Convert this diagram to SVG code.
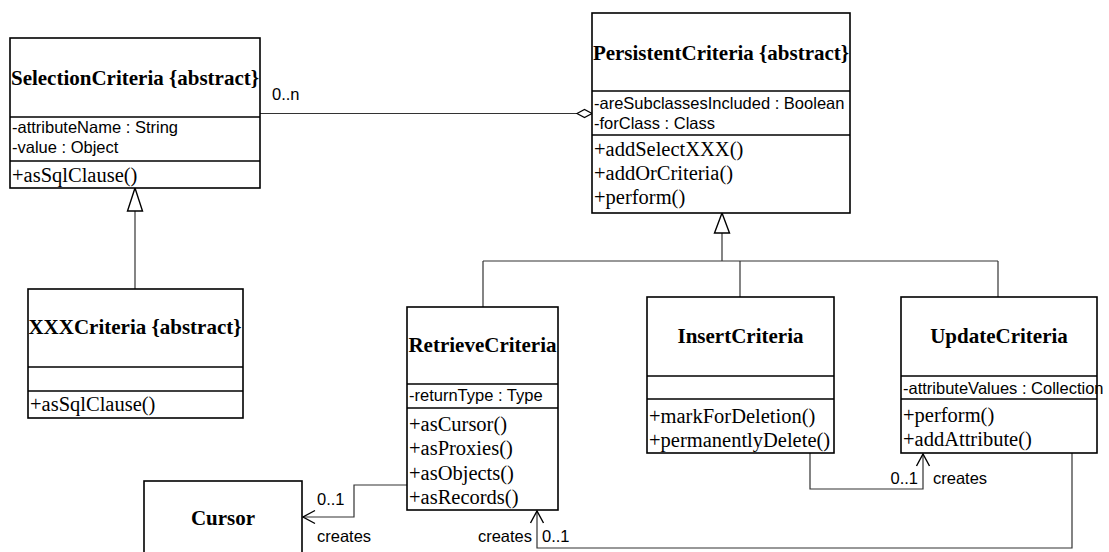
<svg xmlns="http://www.w3.org/2000/svg" width="1109" height="552" viewBox="0 0 1109 552">
  <style>
    .box { fill: #fff; stroke: #000; stroke-width: 1.6; }
    .div { stroke: #000; stroke-width: 1.6; }
    .title { font-family: "Liberation Serif", "Times New Roman", serif; font-weight: bold; font-size: 21px; fill: #000; text-anchor: middle; }
    .op { font-family: "Liberation Serif", "Times New Roman", serif; font-size: 20.5px; fill: #000; }
    .attr { font-family: "Liberation Sans", Arial, sans-serif; font-size: 16.5px; fill: #000; }
    .lbl { font-family: "Liberation Sans", Arial, sans-serif; font-size: 16.5px; fill: #000; }
    .conn { fill: none; stroke: #333; stroke-width: 1.2; }
    .tri { fill: #fff; stroke: #000; stroke-width: 1.4; }
    .arrow { fill: none; stroke: #000; stroke-width: 1.4; }
  </style>

  <!-- connectors -->
  <g id="connectors">
    <!-- aggregation: SelectionCriteria 0..n to PersistentCriteria -->
    <line class="conn" x1="260" y1="113.5" x2="577" y2="113.5"/>
    <polygon points="577,113.5 584.5,109.5 592,113.5 584.5,117.5" fill="#fff" stroke="#000" stroke-width="1.2"/>
    <text class="lbl" x="272" y="100">0..n</text>

    <!-- generalization: XXXCriteria to SelectionCriteria -->
    <line class="conn" x1="135" y1="211" x2="135" y2="289"/>
    <polygon class="tri" points="135,188 127.5,211 142.5,211"/>

    <!-- generalization tree: subclasses to PersistentCriteria -->
    <line class="conn" x1="722" y1="233" x2="722" y2="261"/>
    <line class="conn" x1="483" y1="261" x2="998" y2="261"/>
    <line class="conn" x1="483" y1="261" x2="483" y2="307"/>
    <line class="conn" x1="740" y1="261" x2="740" y2="297"/>
    <line class="conn" x1="998" y1="261" x2="998" y2="297"/>
    <polygon class="tri" points="722,213 714.5,233 729.5,233"/>

    <!-- RetrieveCriteria creates Cursor -->
    <polyline class="conn" points="407,485 354,485 354,517 303,517"/>
    <polyline class="arrow" points="315,510.5 303,517 315,523.5"/>
    <text class="lbl" x="317" y="505">0..1</text>
    <text class="lbl" x="317" y="542">creates</text>

    <!-- InsertCriteria creates UpdateCriteria -->
    <polyline class="conn" points="810,453 810,489 923,489 923,454"/>
    <polyline class="arrow" points="916.5,466 923,454 929.5,466"/>
    <text class="lbl" x="918" y="484" text-anchor="end">0..1</text>
    <text class="lbl" x="933" y="484">creates</text>

    <!-- UpdateCriteria creates RetrieveCriteria -->
    <polyline class="conn" points="1072,453 1072,548 537,548 537,511"/>
    <polyline class="arrow" points="530.5,523 537,511 543.5,523"/>
    <text class="lbl" x="532" y="542" text-anchor="end">creates</text>
    <text class="lbl" x="542" y="542">0..1</text>
  </g>

  <!-- SelectionCriteria -->
  <g id="selection-criteria">
    <rect class="box" x="10" y="38" width="250" height="150"/>
    <line class="div" x1="10" y1="117" x2="260" y2="117"/>
    <line class="div" x1="10" y1="161" x2="260" y2="161"/>
    <text class="title" x="135" y="85">SelectionCriteria {abstract}</text>
    <text class="attr" x="12" y="133">-attributeName : String</text>
    <text class="attr" x="12" y="153">-value : Object</text>
    <text class="op" x="12" y="182">+asSqlClause()</text>
  </g>

  <!-- XXXCriteria -->
  <g id="xxx-criteria">
    <rect class="box" x="28" y="289" width="215" height="129"/>
    <line class="div" x1="28" y1="367" x2="243" y2="367"/>
    <line class="div" x1="28" y1="391" x2="243" y2="391"/>
    <text class="title" x="135" y="334">XXXCriteria {abstract}</text>
    <text class="op" x="30" y="411">+asSqlClause()</text>
  </g>

  <!-- PersistentCriteria -->
  <g id="persistent-criteria">
    <rect class="box" x="592" y="13" width="258" height="200"/>
    <line class="div" x1="592" y1="91" x2="850" y2="91"/>
    <line class="div" x1="592" y1="135" x2="850" y2="135"/>
    <text class="title" x="721" y="60">PersistentCriteria {abstract}</text>
    <text class="attr" x="594" y="109">-areSubclassesIncluded : Boolean</text>
    <text class="attr" x="594" y="129">-forClass : Class</text>
    <text class="op" x="594" y="156">+addSelectXXX()</text>
    <text class="op" x="594" y="180">+addOrCriteria()</text>
    <text class="op" x="594" y="204">+perform()</text>
  </g>

  <!-- RetrieveCriteria -->
  <g id="retrieve-criteria">
    <rect class="box" x="407" y="307" width="151" height="203"/>
    <line class="div" x1="407" y1="384" x2="558" y2="384"/>
    <line class="div" x1="407" y1="408" x2="558" y2="408"/>
    <text class="title" x="482.5" y="352">RetrieveCriteria</text>
    <text class="attr" x="409" y="401">-returnType : Type</text>
    <text class="op" x="409" y="431">+asCursor()</text>
    <text class="op" x="409" y="455">+asProxies()</text>
    <text class="op" x="409" y="480">+asObjects()</text>
    <text class="op" x="409" y="504">+asRecords()</text>
  </g>

  <!-- InsertCriteria -->
  <g id="insert-criteria">
    <rect class="box" x="647" y="297" width="187" height="156"/>
    <line class="div" x1="647" y1="376" x2="834" y2="376"/>
    <line class="div" x1="647" y1="399" x2="834" y2="399"/>
    <text class="title" x="740.5" y="343">InsertCriteria</text>
    <text class="op" x="649" y="423">+markForDeletion()</text>
    <text class="op" x="649" y="447">+permanentlyDelete()</text>
  </g>

  <!-- UpdateCriteria -->
  <g id="update-criteria">
    <rect class="box" x="901" y="297" width="196" height="156"/>
    <line class="div" x1="901" y1="376" x2="1097" y2="376"/>
    <line class="div" x1="901" y1="399" x2="1097" y2="399"/>
    <text class="title" x="999" y="343">UpdateCriteria</text>
    <text class="attr" x="903" y="394">-attributeValues : Collection</text>
    <text class="op" x="903" y="422">+perform()</text>
    <text class="op" x="903" y="446">+addAttribute()</text>
  </g>

  <!-- Cursor -->
  <g id="cursor">
    <rect class="box" x="144" y="481" width="158" height="80"/>
    <text class="title" x="223" y="525">Cursor</text>
  </g>
</svg>
